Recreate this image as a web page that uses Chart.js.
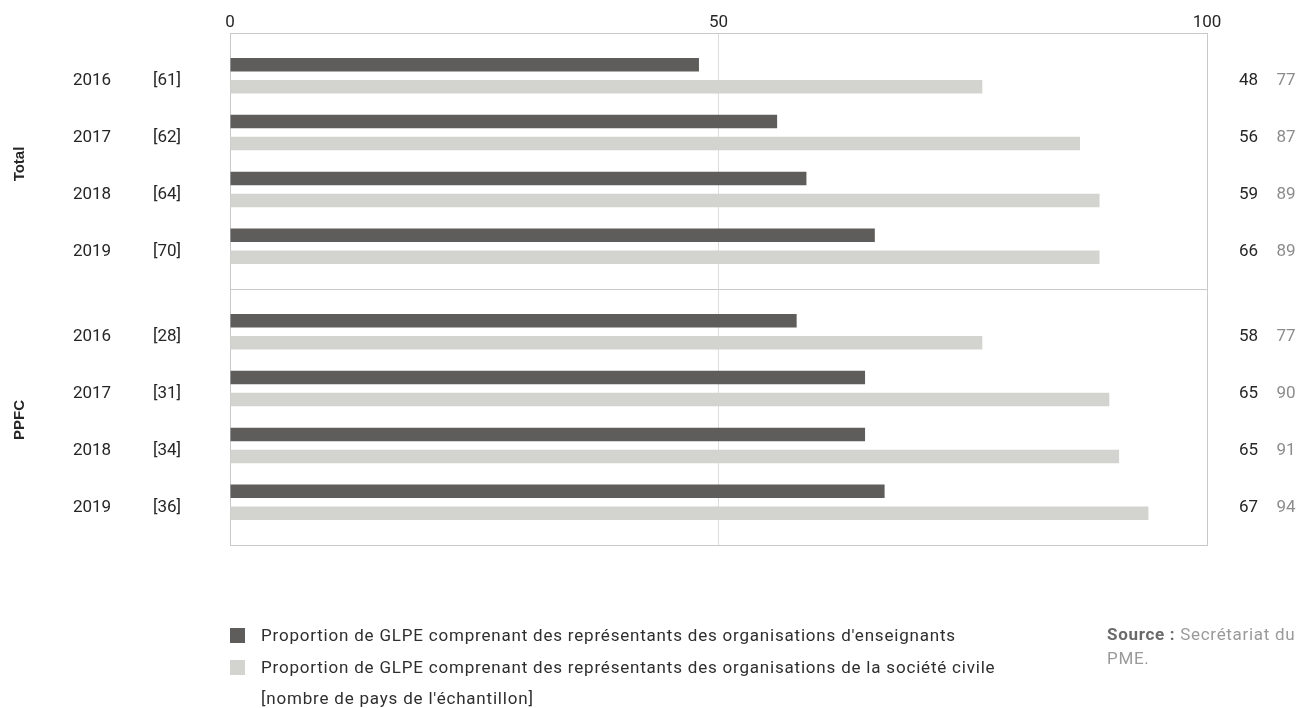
<!DOCTYPE html>
<html lang="fr">
<head>
<meta charset="utf-8">
<script src="https://cdn.jsdelivr.net/npm/chart.js@4/dist/chart.umd.min.js"></script>
<style>
  html, body { margin: 0; padding: 0; background: #fff; }
  body { width: 1297px; height: 708px; position: relative; overflow: hidden; font-family: Roboto, "DejaVu Sans", sans-serif; }
  #wrap { position: absolute; left: 0; top: 0; width: 1297px; height: 708px; }
  .legend { position: absolute; left: 230px; top: 620px; font-size: 17px; letter-spacing: 0.8px; color: #2e2e2e; }
  .legend .row { position: relative; height: 31.5px; line-height: 31.5px; padding-left: 31px; white-space: nowrap; }
  .legend .sw { position: absolute; left: 0; top: 8px; width: 15px; height: 15px; }
  .source { position: absolute; left: 1107px; top: 622px; font-size: 17px; letter-spacing: 0.7px; line-height: 24px; color: #9a9a9a; white-space: nowrap; }
  .source b { color: #6a6a6a; font-weight: 700; }
</style>
</head>
<body>
<div id="wrap"><canvas id="chart" width="1297" height="708"></canvas></div>
<div class="legend" id="legend"></div>
<div class="source"><b>Source :</b> Secrétariat du<br>PME.</div>
<script>
// Groups, years and sample sizes
const groups = ['Total', 'PPFC'];
const years = ['2016', '2017', '2018', '2019'];
const sampleTotal = [61, 62, 64, 70];
const samplePPFC = [28, 31, 34, 36];

// Share of LEGs (%) including teacher organisations / civil society organisations
const teachersTotal = [48, 56, 59, 66];
const civilTotal = [77, 87, 89, 89];
const teachersPPFC = [58, 65, 65, 67];
const civilPPFC = [77, 90, 91, 94];

const xTicks = [0, 50, 100];

const seriesNames = [
  "Proportion de GLPE comprenant des représentants des organisations d'enseignants",
  "Proportion de GLPE comprenant des représentants des organisations de la société civile"
];
const sampleNote = "[nombre de pays de l'échantillon]";

const DARK = '#5e5d5b';
const LIGHT = '#d3d3cf';
const FRAME = '#c9c9c9';
const GRID50 = '#dddddd';
const FONT = 'Roboto, "DejaVu Sans", sans-serif';

// Each group spans 9 slots on the category axis: one bar row every other slot,
// with blank slots as spacing around the rows.
const groupData = [
  { name: groups[0], samples: sampleTotal, teachers: teachersTotal, civil: civilTotal },
  { name: groups[1], samples: samplePPFC, teachers: teachersPPFC, civil: civilPPFC }
];
const slotsPerGroup = 9;
const labels = [];
const dsTeachers = [];
const dsCivil = [];
const rows = []; // {slot, year, sample, teachers, civil}
groupData.forEach((g, gi) => {
  for (let s = 0; s < slotsPerGroup; s++) {
    const r = (s % 2 === 1) ? (s - 1) / 2 : -1;
    const slot = gi * slotsPerGroup + s;
    if (r >= 0 && r < years.length) {
      labels.push(g.name + ' ' + years[r]);
      dsTeachers.push(g.teachers[r]);
      dsCivil.push(g.civil[r]);
      rows.push({ slot, year: years[r], sample: g.samples[r], teachers: g.teachers[r], civil: g.civil[r] });
    } else {
      labels.push('');
      dsTeachers.push(null);
      dsCivil.push(null);
    }
  }
});

function dividerPixel(y) {
  return (y.getPixelForValue(slotsPerGroup - 1) + y.getPixelForValue(slotsPerGroup)) / 2;
}

// Labels, values and frame drawn around the plot
const annotations = {
  id: 'annotations',
  beforeDatasetsDraw(chart) {
    const { ctx, chartArea: a, scales: { y } } = chart;
    ctx.save();
    ctx.strokeStyle = FRAME;
    ctx.lineWidth = 1;
    ctx.strokeRect(Math.round(a.left) + 0.5, Math.round(a.top) + 0.5,
                   Math.round(a.right - a.left), Math.round(a.bottom - a.top));
    const div = dividerPixel(y);
    ctx.beginPath();
    ctx.moveTo(a.left, Math.round(div) + 0.5);
    ctx.lineTo(a.right, Math.round(div) + 0.5);
    ctx.stroke();
    ctx.restore();
  },
  afterDraw(chart) {
    const { ctx, chartArea: a, scales: { y } } = chart;
    ctx.save();
    ctx.textBaseline = 'middle';
    ctx.font = '17px ' + FONT;
    rows.forEach(r => {
      const cy = y.getPixelForValue(r.slot) + 5;
      ctx.textAlign = 'center';
      ctx.fillStyle = '#262626';
      ctx.fillText(r.year, 92, cy);
      ctx.fillText('[' + r.sample + ']', 167, cy);
      ctx.fillText(String(r.teachers), 1248.5, cy);
      ctx.fillStyle = '#8c8c8c';
      ctx.fillText(String(r.civil), 1286, cy);
    });
    // group names, rotated
    ctx.font = 'bold 15px "Liberation Sans", Arial, sans-serif';
    ctx.fillStyle = '#262626';
    ctx.textAlign = 'center';
    const div = dividerPixel(y);
    groupData.forEach((g, gi) => {
      const top = gi === 0 ? a.top : div;
      const bottom = gi === 0 ? div : a.bottom;
      ctx.save();
      ctx.translate(20, (top + bottom) / 2 + 3);
      ctx.rotate(-Math.PI / 2);
      ctx.fillText(g.name, 0, 0);
      ctx.restore();
    });
    ctx.restore();
  }
};

new Chart(document.getElementById('chart'), {
  type: 'bar',
  data: {
    labels,
    datasets: [
      { label: seriesNames[0], data: dsTeachers, backgroundColor: DARK },
      { label: seriesNames[1], data: dsCivil, backgroundColor: LIGHT }
    ]
  },
  options: {
    indexAxis: 'y',
    responsive: false,
    animation: false,
    devicePixelRatio: 1,
    categoryPercentage: 1.547,
    barPercentage: 0.614,
    layout: { padding: { left: 230, right: 90, top: 0, bottom: 163 } },
    plugins: { legend: { display: false }, tooltip: { enabled: false } },
    scales: {
      x: {
        position: 'top',
        min: 0,
        max: 100,
        afterBuildTicks(scale) { scale.ticks = xTicks.map(v => ({ value: v })); },
        afterFit(scale) { scale.height = 33; },
        ticks: { color: '#262626', font: { family: FONT, size: 17 }, padding: 0, maxRotation: 0 },
        grid: {
          drawTicks: false,
          color: ctx => (ctx.tick && ctx.tick.value === 50 ? GRID50 : 'rgba(0,0,0,0)'),
          lineWidth: 1
        },
        border: { display: false }
      },
      y: { display: false }
    }
  },
  plugins: [annotations]
});

// Legend
const legend = document.getElementById('legend');
[[DARK, seriesNames[0]], [LIGHT, seriesNames[1]], [null, sampleNote]].forEach(([c, t]) => {
  const row = document.createElement('div');
  row.className = 'row';
  if (c) {
    const sw = document.createElement('span');
    sw.className = 'sw';
    sw.style.background = c;
    row.appendChild(sw);
  }
  row.appendChild(document.createTextNode(t));
  legend.appendChild(row);
});
</script>
</body>
</html>
